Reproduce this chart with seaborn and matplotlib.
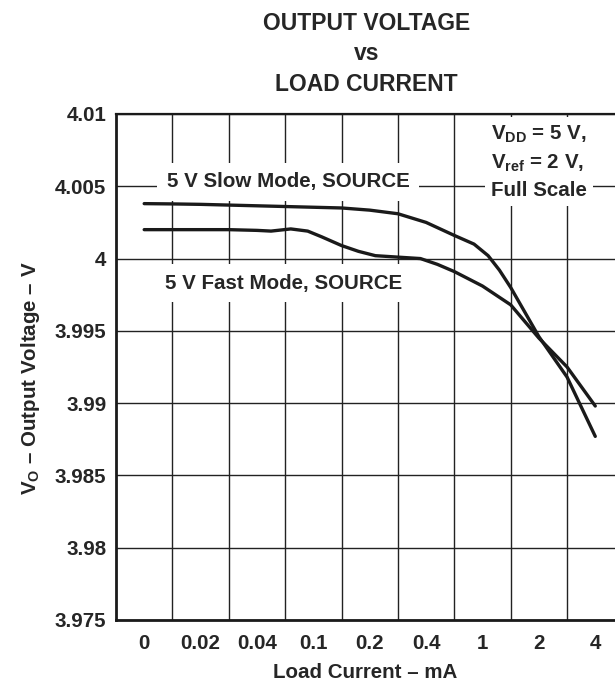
import matplotlib
matplotlib.use("Agg")
import matplotlib.pyplot as plt
import seaborn as sns
import pandas as pd

# x tick categories (evenly spaced, non-linear current axis)
current_labels = ['0', '0.02', '0.04', '0.1', '0.2', '0.4', '1', '2', '4']

# curve readings: x is position on the category axis, y is output voltage
slow_x = [0.0, 0.5, 1.0, 1.5, 2.0, 2.5, 3.0, 3.5, 4.0, 4.5, 5.0, 5.5, 5.85, 6.1, 6.3, 6.5, 7.0, 7.5, 8.0]
slow_v = [4.0038, 4.00378, 4.00375, 4.0037, 4.00365, 4.0036, 4.00355, 4.0035, 4.00335, 4.0031, 4.0025, 4.0016,
          4.0010, 4.0002, 3.9992, 3.9980, 3.9946, 3.9918, 3.9877]
fast_x = [0.0, 0.5, 1.0, 1.5, 2.0, 2.25, 2.6, 2.9, 3.15, 3.5, 3.8, 4.1, 4.5, 4.9, 5.2, 5.5, 6.0, 6.5, 7.0, 7.5, 8.0]
fast_v = [4.0020, 4.0020, 4.0020, 4.0020, 4.00195, 4.0019, 4.00205, 4.0019, 4.0015, 4.0009, 4.0005, 4.0002,
          4.0001, 4.0000, 3.9996, 3.9991, 3.9981, 3.9968, 3.9945, 3.9925, 3.9898]
y_ticks = [3.975, 3.98, 3.985, 3.99, 3.995, 4.0, 4.005, 4.01]
y_tick_labels = ['3.975', '3.98', '3.985', '3.99', '3.995', '4', '4.005', '4.01']

df = pd.concat([
    pd.DataFrame({'pos': slow_x, 'v': slow_v, 'mode': 'slow'}),
    pd.DataFrame({'pos': fast_x, 'v': fast_v, 'mode': 'fast'}),
])

sns.set_style('white')
plt.rcParams['font.family'] = ['Liberation Sans', 'DejaVu Sans']
plt.rcParams['font.weight'] = 'bold'
plt.rcParams['mathtext.fontset'] = 'custom'
plt.rcParams['mathtext.rm'] = 'Liberation Sans:bold'
plt.rcParams['mathtext.it'] = 'Liberation Sans:bold'
plt.rcParams['mathtext.bf'] = 'Liberation Sans:bold'

fs = 14.8

fig = plt.figure(figsize=(6.15, 6.81), dpi=100)
ax = fig.add_axes([0.1886, 0.0896, 0.8114, 0.743])

sns.lineplot(data=df, x='pos', y='v', hue='mode', palette={'slow': '#1a1a1a', 'fast': '#1a1a1a'},
             linewidth=2.4, legend=False, ax=ax, sort=False, zorder=4)

ax.set_xlim(-0.5, 8.35)
ax.set_ylim(3.975, 4.01)
ax.set_xticks(range(len(current_labels)))
ax.set_xticklabels(current_labels)
ax.set_xticks([i + 0.5 for i in range(len(current_labels) - 1)], minor=True)
ax.set_yticks(y_ticks)
ax.set_yticklabels(y_tick_labels)
ax.tick_params(axis='both', which='both', length=0, labelsize=fs)
ax.tick_params(axis='x', pad=10)
ax.tick_params(axis='y', pad=7)

ax.grid(False)
ax.yaxis.grid(True, which='major', color='#222222', linewidth=1.0)
ax.xaxis.grid(True, which='minor', color='#222222', linewidth=1.0)
for side in ['left', 'bottom']:
    ax.spines[side].set_linewidth(2.0)
    ax.spines[side].set_color('#1a1a1a')
ax.spines['top'].set_linewidth(1.6)
ax.spines['top'].set_color('#1a1a1a')
ax.spines['right'].set_visible(False)

ax.set_xlabel('Load Current – mA', fontsize=fs, fontweight='bold', labelpad=7)
ax.set_ylabel('V$_{O}$ – Output Voltage – V', fontsize=fs, fontweight='bold')
ax.yaxis.set_label_coords(-0.148, 0.478)

ax.text(2.55, 4.0053, '5 V Slow Mode, SOURCE', fontsize=fs, fontweight='bold',
        ha='center', va='center', zorder=2,
        bbox=dict(boxstyle='square,pad=0.45', facecolor='white', edgecolor='none'))
ax.text(2.48, 3.9983, '5 V Fast Mode, SOURCE', fontsize=fs, fontweight='bold',
        ha='center', va='center', zorder=2,
        bbox=dict(boxstyle='square,pad=0.45', facecolor='white', edgecolor='none'))
ax.text(6.15, 4.0093, '$V_{DD}$ = 5 V,\n$V_{ref}$ = 2 V,\nFull Scale', fontsize=fs, fontweight='bold',
        ha='left', va='top', linespacing=1.45, zorder=2,
        bbox=dict(boxstyle='square,pad=0.3', facecolor='white', edgecolor='none'))

fig.text(0.596, 0.982, 'OUTPUT VOLTAGE\nvs\nLOAD CURRENT', fontsize=16.5, fontweight='bold',
         ha='center', va='top', linespacing=1.4)

fig.savefig('out.png', dpi=100)
